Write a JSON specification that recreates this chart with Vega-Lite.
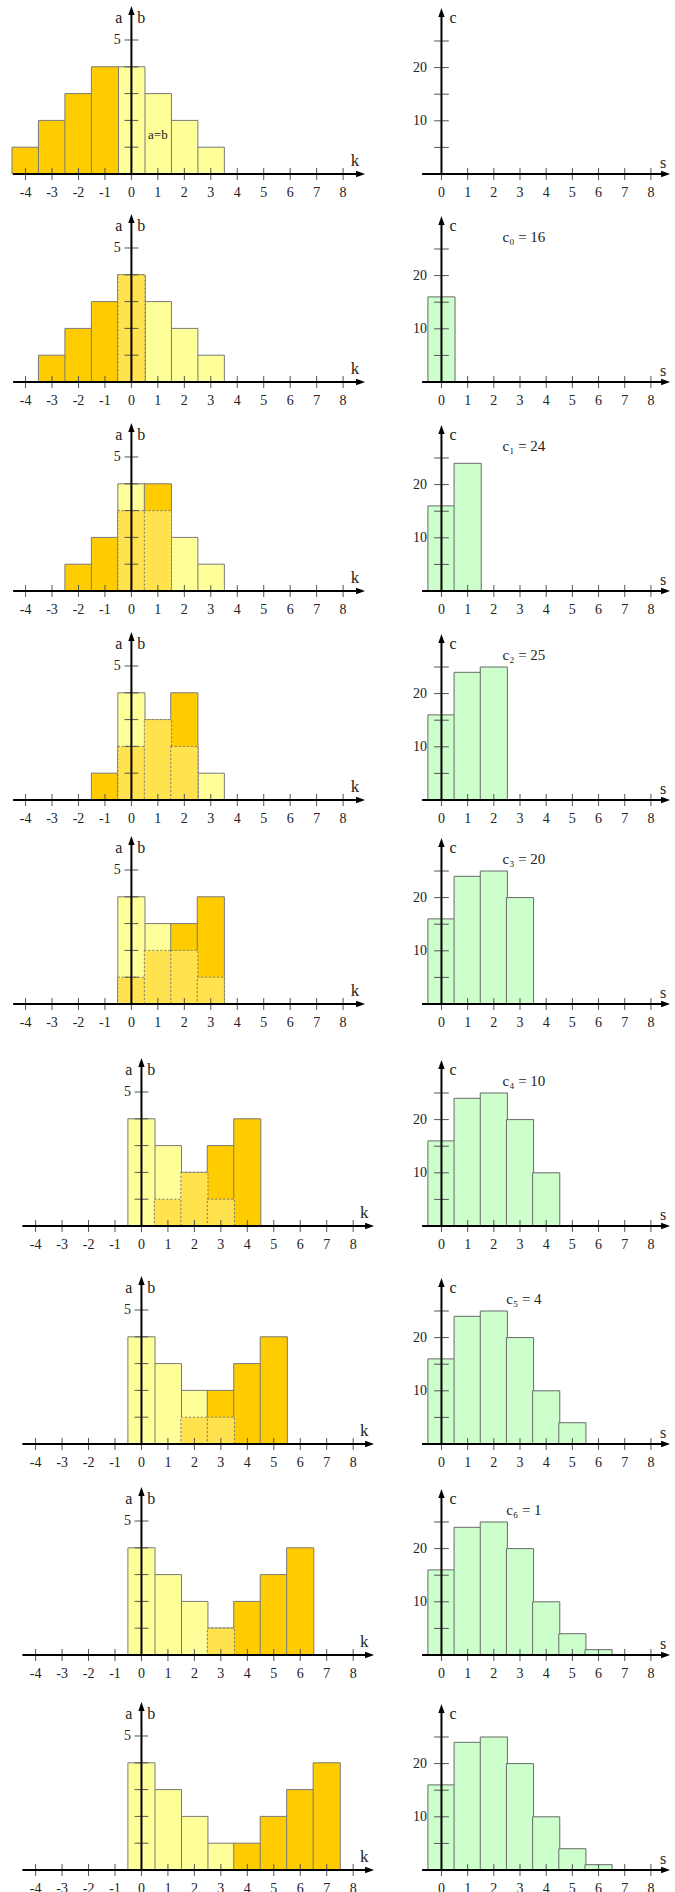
{
"$schema": "https://vega.github.io/schema/vega-lite/v6.json",
"padding": 0,
"background": "white",
"spacing": 0,
"config": {"view": {"stroke": null}, "axis": {"disable": true}, "legend": {"disable": true}},
"datasets": {
"ab": [
{"n":-1,"k":0,"ser":"b","h":4},{"n":-1,"k":1,"ser":"b","h":3},{"n":-1,"k":2,"ser":"b","h":2},{"n":-1,"k":3,"ser":"b","h":1},
{"n":-1,"k":-1,"ser":"a","h":4},{"n":-1,"k":-2,"ser":"a","h":3},{"n":-1,"k":-3,"ser":"a","h":2},{"n":-1,"k":-4,"ser":"a","h":1},
{"n":0,"k":0,"ser":"b","h":4},{"n":0,"k":1,"ser":"b","h":3},{"n":0,"k":2,"ser":"b","h":2},{"n":0,"k":3,"ser":"b","h":1},
{"n":0,"k":0,"ser":"a","h":4},{"n":0,"k":-1,"ser":"a","h":3},{"n":0,"k":-2,"ser":"a","h":2},{"n":0,"k":-3,"ser":"a","h":1},
{"n":1,"k":0,"ser":"b","h":4},{"n":1,"k":1,"ser":"b","h":3},{"n":1,"k":2,"ser":"b","h":2},{"n":1,"k":3,"ser":"b","h":1},
{"n":1,"k":1,"ser":"a","h":4},{"n":1,"k":0,"ser":"a","h":3},{"n":1,"k":-1,"ser":"a","h":2},{"n":1,"k":-2,"ser":"a","h":1},
{"n":2,"k":0,"ser":"b","h":4},{"n":2,"k":1,"ser":"b","h":3},{"n":2,"k":2,"ser":"b","h":2},{"n":2,"k":3,"ser":"b","h":1},
{"n":2,"k":2,"ser":"a","h":4},{"n":2,"k":1,"ser":"a","h":3},{"n":2,"k":0,"ser":"a","h":2},{"n":2,"k":-1,"ser":"a","h":1},
{"n":3,"k":0,"ser":"b","h":4},{"n":3,"k":1,"ser":"b","h":3},{"n":3,"k":2,"ser":"b","h":2},{"n":3,"k":3,"ser":"b","h":1},
{"n":3,"k":3,"ser":"a","h":4},{"n":3,"k":2,"ser":"a","h":3},{"n":3,"k":1,"ser":"a","h":2},{"n":3,"k":0,"ser":"a","h":1},
{"n":4,"k":0,"ser":"b","h":4},{"n":4,"k":1,"ser":"b","h":3},{"n":4,"k":2,"ser":"b","h":2},{"n":4,"k":3,"ser":"b","h":1},
{"n":4,"k":4,"ser":"a","h":4},{"n":4,"k":3,"ser":"a","h":3},{"n":4,"k":2,"ser":"a","h":2},{"n":4,"k":1,"ser":"a","h":1},
{"n":5,"k":0,"ser":"b","h":4},{"n":5,"k":1,"ser":"b","h":3},{"n":5,"k":2,"ser":"b","h":2},{"n":5,"k":3,"ser":"b","h":1},
{"n":5,"k":5,"ser":"a","h":4},{"n":5,"k":4,"ser":"a","h":3},{"n":5,"k":3,"ser":"a","h":2},{"n":5,"k":2,"ser":"a","h":1},
{"n":6,"k":0,"ser":"b","h":4},{"n":6,"k":1,"ser":"b","h":3},{"n":6,"k":2,"ser":"b","h":2},{"n":6,"k":3,"ser":"b","h":1},
{"n":6,"k":6,"ser":"a","h":4},{"n":6,"k":5,"ser":"a","h":3},{"n":6,"k":4,"ser":"a","h":2},{"n":6,"k":3,"ser":"a","h":1},
{"n":7,"k":0,"ser":"b","h":4},{"n":7,"k":1,"ser":"b","h":3},{"n":7,"k":2,"ser":"b","h":2},{"n":7,"k":3,"ser":"b","h":1},
{"n":7,"k":7,"ser":"a","h":4},{"n":7,"k":6,"ser":"a","h":3},{"n":7,"k":5,"ser":"a","h":2},{"n":7,"k":4,"ser":"a","h":1}
],
"ov": [
{"n":0,"k":0,"h":4},
{"n":1,"k":0,"h":3},{"n":1,"k":1,"h":3},
{"n":2,"k":0,"h":2},{"n":2,"k":1,"h":3},{"n":2,"k":2,"h":2},
{"n":3,"k":0,"h":1},{"n":3,"k":1,"h":2},{"n":3,"k":2,"h":2},{"n":3,"k":3,"h":1},
{"n":4,"k":1,"h":1},{"n":4,"k":2,"h":2},{"n":4,"k":3,"h":1},
{"n":5,"k":2,"h":1},{"n":5,"k":3,"h":1},
{"n":6,"k":3,"h":1}
],
"c": [
{"s":0,"c":16,"lab":"c₀ = 16"},{"s":1,"c":24,"lab":"c₁ = 24"},{"s":2,"c":25,"lab":"c₂ = 25"},{"s":3,"c":20,"lab":"c₃ = 20"},
{"s":4,"c":10,"lab":"c₄ = 10"},{"s":5,"c":4,"lab":"c₅ = 4"},{"s":6,"c":1,"lab":"c₆ = 1"}
],
"kt": [{"v":-4,"t":"-4"},{"v":-3,"t":"-3"},{"v":-2,"t":"-2"},{"v":-1,"t":"-1"},{"v":0,"t":"0"},{"v":1,"t":"1"},{"v":2,"t":"2"},{"v":3,"t":"3"},{"v":4,"t":"4"},{"v":5,"t":"5"},{"v":6,"t":"6"},{"v":7,"t":"7"},{"v":8,"t":"8"}],
"yt": [{"v":1},{"v":2},{"v":3},{"v":4},{"v":5}],
"st": [{"v":0,"t":"0"},{"v":1,"t":"1"},{"v":2,"t":"2"},{"v":3,"t":"3"},{"v":4,"t":"4"},{"v":5,"t":"5"},{"v":6,"t":"6"},{"v":7,"t":"7"},{"v":8,"t":"8"}],
"ct": [{"v":5},{"v":10},{"v":15},{"v":20},{"v":25}],
"ctl": [{"v":10,"t":"10"},{"v":20,"t":"20"}]
},
"vconcat": [
{"hconcat": [
{"width":395,"height":202,"data":{"values":[{}]},"layer":[
{"data":{"name":"ab"},"transform":[{"filter":"datum.n == -1"}],"mark":{"type":"bar","width":27.15,"stroke":"#7a7a7a","strokeWidth":1},"encoding":{"x":{"field":"k","type":"quantitative","scale":{"domain":[-4.777,9.772],"nice":false,"zero":false},"axis":null},"y":{"field":"h","type":"quantitative","scale":{"domain":[-1.0448,6.4925],"nice":false,"zero":false},"axis":null,"stack":null},"y2":{"datum":0},"color":{"field":"ser","type":"nominal","scale":{"domain":["a","b"],"range":["#FFCC00","#FFFF99"]},"legend":null},"order":{"field":"h","type":"quantitative"}}},
{"data":{"name":"ov"},"transform":[{"filter":"datum.n == -1"}],"mark":{"type":"bar","width":27.15,"fill":"#FFE24D","stroke":"#7a7a7a","strokeWidth":1,"strokeDash":[2,2]},"encoding":{"x":{"field":"k","type":"quantitative"},"y":{"field":"h","type":"quantitative","stack":null},"y2":{"datum":0}}},
{"data":{"name":"kt"},"mark":{"type":"rule","color":"#555","strokeWidth":1},"encoding":{"x":{"field":"v","type":"quantitative"},"y":{"datum":-0.224},"y2":{"datum":0.224}}},
{"data":{"name":"yt"},"mark":{"type":"rule","color":"#555","strokeWidth":1},"encoding":{"y":{"field":"v","type":"quantitative"},"x":{"datum":-0.26},"x2":{"datum":0.26}}},
{"mark":{"type":"rule","color":"#000","strokeWidth":2},"encoding":{"x":{"datum":-4.47},"x2":{"datum":8.6},"y":{"datum":0}}},
{"mark":{"type":"rule","color":"#000","strokeWidth":2},"encoding":{"x":{"datum":0},"y":{"datum":0},"y2":{"datum":6.12}}},
{"mark":{"type":"point","shape":"M1,0L-1,-0.7L-1,0.7Z","filled":true,"size":81,"color":"#000","opacity":1},"encoding":{"x":{"datum":8.66},"y":{"datum":0}}},
{"mark":{"type":"point","shape":"M0,-1L-0.7,1L0.7,1Z","filled":true,"size":81,"color":"#000","opacity":1},"encoding":{"x":{"datum":0},"y":{"datum":6.1}}},
{"data":{"name":"kt"},"mark":{"type":"text","font":"Liberation Serif","fontSize":14,"color":"#222","align":"center","baseline":"middle"},"encoding":{"x":{"field":"v","type":"quantitative"},"y":{"datum":-0.71},"text":{"field":"t"}}},
{"mark":{"type":"text","text":"5","font":"Liberation Serif","fontSize":14,"color":"#222","align":"right","baseline":"middle"},"encoding":{"x":{"datum":-0.4},"y":{"datum":5}}},
{"mark":{"type":"text","text":"a","font":"Liberation Serif","fontSize":16,"color":"#222","align":"center","baseline":"middle"},"encoding":{"x":{"datum":-0.48},"y":{"datum":5.83}}},
{"mark":{"type":"text","text":"b","font":"Liberation Serif","fontSize":16,"color":"#222","align":"center","baseline":"middle"},"encoding":{"x":{"datum":0.37},"y":{"datum":5.83}}},
{"mark":{"type":"text","text":"k","font":"Liberation Serif","fontSize":17,"color":"#222","align":"center","baseline":"middle"},"encoding":{"x":{"datum":8.45},"y":{"datum":0.47}}},
{"mark":{"type":"text","text":"a=b","font":"Liberation Serif","fontSize":13,"color":"#222","align":"center","baseline":"middle"},"encoding":{"x":{"datum":1.0},"y":{"datum":1.46}}}
]},
{"width":280,"height":202,"data":{"values":[{}]},"layer":[
{"data":{"name":"c"},"transform":[{"filter":"datum.s <= -1"}],"mark":{"type":"bar","width":27.15,"fill":"#CCFFCC","stroke":"#6a6a6a","strokeWidth":1},"encoding":{"x":{"field":"s","type":"quantitative","scale":{"domain":[-1.584,8.729],"nice":false,"zero":false},"axis":null},"y":{"field":"c","type":"quantitative","scale":{"domain":[-5.2632,32.707],"nice":false,"zero":false},"axis":null,"stack":null},"y2":{"datum":0}}},
{"data":{"name":"st"},"mark":{"type":"rule","color":"#555","strokeWidth":1},"encoding":{"x":{"field":"v","type":"quantitative"},"y":{"datum":-1.13},"y2":{"datum":1.13}}},
{"data":{"name":"ct"},"mark":{"type":"rule","color":"#555","strokeWidth":1},"encoding":{"y":{"field":"v","type":"quantitative"},"x":{"datum":-0.28},"x2":{"datum":0.28}}},
{"mark":{"type":"rule","color":"#000","strokeWidth":2},"encoding":{"x":{"datum":-0.74},"x2":{"datum":8.5},"y":{"datum":0}}},
{"mark":{"type":"rule","color":"#000","strokeWidth":2},"encoding":{"x":{"datum":0},"y":{"datum":0},"y2":{"datum":30.4}}},
{"mark":{"type":"point","shape":"M1,0L-1,-0.7L-1,0.7Z","filled":true,"size":81,"color":"#000","opacity":1},"encoding":{"x":{"datum":8.56},"y":{"datum":0}}},
{"mark":{"type":"point","shape":"M0,-1L-0.7,1L0.7,1Z","filled":true,"size":81,"color":"#000","opacity":1},"encoding":{"x":{"datum":0},"y":{"datum":30.35}}},
{"data":{"name":"st"},"mark":{"type":"text","font":"Liberation Serif","fontSize":14,"color":"#222","align":"center","baseline":"middle"},"encoding":{"x":{"field":"v","type":"quantitative"},"y":{"datum":-3.57},"text":{"field":"t"}}},
{"data":{"name":"ctl"},"mark":{"type":"text","font":"Liberation Serif","fontSize":14,"color":"#222","align":"right","baseline":"middle"},"encoding":{"x":{"datum":-0.55},"y":{"field":"v","type":"quantitative"},"text":{"field":"t"}}},
{"mark":{"type":"text","text":"c","font":"Liberation Serif","fontSize":16,"color":"#222","align":"center","baseline":"middle"},"encoding":{"x":{"datum":0.44},"y":{"datum":29.3}}},
{"mark":{"type":"text","text":"s","font":"Liberation Serif","fontSize":16,"color":"#222","align":"center","baseline":"middle"},"encoding":{"x":{"datum":8.47},"y":{"datum":2.1}}},
{"data":{"name":"c"},"transform":[{"filter":"datum.s == -1"}],"mark":{"type":"text","font":"Liberation Serif","fontSize":15,"color":"#222","align":"center","baseline":"middle"},"encoding":{"x":{"datum":3.15},"y":{"datum":27.3},"text":{"field":"lab"}}}
]}
], "spacing": 0, "bounds": "flush"},
{"hconcat": [
{"width":395,"height":208,"data":{"values":[{}]},"layer":[
{"data":{"name":"ab"},"transform":[{"filter":"datum.n == 0"}],"mark":{"type":"bar","width":27.15,"stroke":"#7a7a7a","strokeWidth":1},"encoding":{"x":{"field":"k","type":"quantitative","scale":{"domain":[-4.777,9.772],"nice":false,"zero":false},"axis":null},"y":{"field":"h","type":"quantitative","scale":{"domain":[-1.0448,6.7164],"nice":false,"zero":false},"axis":null,"stack":null},"y2":{"datum":0},"color":{"field":"ser","type":"nominal","scale":{"domain":["a","b"],"range":["#FFCC00","#FFFF99"]},"legend":null},"order":{"field":"h","type":"quantitative"}}},
{"data":{"name":"ov"},"transform":[{"filter":"datum.n == 0"}],"mark":{"type":"bar","width":27.15,"fill":"#FFE24D","stroke":"#7a7a7a","strokeWidth":1,"strokeDash":[2,2]},"encoding":{"x":{"field":"k","type":"quantitative"},"y":{"field":"h","type":"quantitative","stack":null},"y2":{"datum":0}}},
{"data":{"name":"kt"},"mark":{"type":"rule","color":"#555","strokeWidth":1},"encoding":{"x":{"field":"v","type":"quantitative"},"y":{"datum":-0.224},"y2":{"datum":0.224}}},
{"data":{"name":"yt"},"mark":{"type":"rule","color":"#555","strokeWidth":1},"encoding":{"y":{"field":"v","type":"quantitative"},"x":{"datum":-0.26},"x2":{"datum":0.26}}},
{"mark":{"type":"rule","color":"#000","strokeWidth":2},"encoding":{"x":{"datum":-4.47},"x2":{"datum":8.6},"y":{"datum":0}}},
{"mark":{"type":"rule","color":"#000","strokeWidth":2},"encoding":{"x":{"datum":0},"y":{"datum":0},"y2":{"datum":6.12}}},
{"mark":{"type":"point","shape":"M1,0L-1,-0.7L-1,0.7Z","filled":true,"size":81,"color":"#000","opacity":1},"encoding":{"x":{"datum":8.66},"y":{"datum":0}}},
{"mark":{"type":"point","shape":"M0,-1L-0.7,1L0.7,1Z","filled":true,"size":81,"color":"#000","opacity":1},"encoding":{"x":{"datum":0},"y":{"datum":6.1}}},
{"data":{"name":"kt"},"mark":{"type":"text","font":"Liberation Serif","fontSize":14,"color":"#222","align":"center","baseline":"middle"},"encoding":{"x":{"field":"v","type":"quantitative"},"y":{"datum":-0.71},"text":{"field":"t"}}},
{"mark":{"type":"text","text":"5","font":"Liberation Serif","fontSize":14,"color":"#222","align":"right","baseline":"middle"},"encoding":{"x":{"datum":-0.4},"y":{"datum":5}}},
{"mark":{"type":"text","text":"a","font":"Liberation Serif","fontSize":16,"color":"#222","align":"center","baseline":"middle"},"encoding":{"x":{"datum":-0.48},"y":{"datum":5.83}}},
{"mark":{"type":"text","text":"b","font":"Liberation Serif","fontSize":16,"color":"#222","align":"center","baseline":"middle"},"encoding":{"x":{"datum":0.37},"y":{"datum":5.83}}},
{"mark":{"type":"text","text":"k","font":"Liberation Serif","fontSize":17,"color":"#222","align":"center","baseline":"middle"},"encoding":{"x":{"datum":8.45},"y":{"datum":0.47}}}
]},
{"width":280,"height":208,"data":{"values":[{}]},"layer":[
{"data":{"name":"c"},"transform":[{"filter":"datum.s <= 0"}],"mark":{"type":"bar","width":27.15,"fill":"#CCFFCC","stroke":"#6a6a6a","strokeWidth":1},"encoding":{"x":{"field":"s","type":"quantitative","scale":{"domain":[-1.584,8.729],"nice":false,"zero":false},"axis":null},"y":{"field":"c","type":"quantitative","scale":{"domain":[-5.2632,33.835],"nice":false,"zero":false},"axis":null,"stack":null},"y2":{"datum":0}}},
{"data":{"name":"st"},"mark":{"type":"rule","color":"#555","strokeWidth":1},"encoding":{"x":{"field":"v","type":"quantitative"},"y":{"datum":-1.13},"y2":{"datum":1.13}}},
{"data":{"name":"ct"},"mark":{"type":"rule","color":"#555","strokeWidth":1},"encoding":{"y":{"field":"v","type":"quantitative"},"x":{"datum":-0.28},"x2":{"datum":0.28}}},
{"mark":{"type":"rule","color":"#000","strokeWidth":2},"encoding":{"x":{"datum":-0.74},"x2":{"datum":8.5},"y":{"datum":0}}},
{"mark":{"type":"rule","color":"#000","strokeWidth":2},"encoding":{"x":{"datum":0},"y":{"datum":0},"y2":{"datum":30.4}}},
{"mark":{"type":"point","shape":"M1,0L-1,-0.7L-1,0.7Z","filled":true,"size":81,"color":"#000","opacity":1},"encoding":{"x":{"datum":8.56},"y":{"datum":0}}},
{"mark":{"type":"point","shape":"M0,-1L-0.7,1L0.7,1Z","filled":true,"size":81,"color":"#000","opacity":1},"encoding":{"x":{"datum":0},"y":{"datum":30.35}}},
{"data":{"name":"st"},"mark":{"type":"text","font":"Liberation Serif","fontSize":14,"color":"#222","align":"center","baseline":"middle"},"encoding":{"x":{"field":"v","type":"quantitative"},"y":{"datum":-3.57},"text":{"field":"t"}}},
{"data":{"name":"ctl"},"mark":{"type":"text","font":"Liberation Serif","fontSize":14,"color":"#222","align":"right","baseline":"middle"},"encoding":{"x":{"datum":-0.55},"y":{"field":"v","type":"quantitative"},"text":{"field":"t"}}},
{"mark":{"type":"text","text":"c","font":"Liberation Serif","fontSize":16,"color":"#222","align":"center","baseline":"middle"},"encoding":{"x":{"datum":0.44},"y":{"datum":29.3}}},
{"mark":{"type":"text","text":"s","font":"Liberation Serif","fontSize":16,"color":"#222","align":"center","baseline":"middle"},"encoding":{"x":{"datum":8.47},"y":{"datum":2.1}}},
{"data":{"name":"c"},"transform":[{"filter":"datum.s == 0"}],"mark":{"type":"text","font":"Liberation Serif","fontSize":15,"color":"#222","align":"center","baseline":"middle"},"encoding":{"x":{"datum":3.15},"y":{"datum":27.3},"text":{"field":"lab"}}}
]}
], "spacing": 0, "bounds": "flush"},
{"hconcat": [
{"width":395,"height":209,"data":{"values":[{}]},"layer":[
{"data":{"name":"ab"},"transform":[{"filter":"datum.n == 1"}],"mark":{"type":"bar","width":27.15,"stroke":"#7a7a7a","strokeWidth":1},"encoding":{"x":{"field":"k","type":"quantitative","scale":{"domain":[-4.777,9.772],"nice":false,"zero":false},"axis":null},"y":{"field":"h","type":"quantitative","scale":{"domain":[-1.0448,6.7537],"nice":false,"zero":false},"axis":null,"stack":null},"y2":{"datum":0},"color":{"field":"ser","type":"nominal","scale":{"domain":["a","b"],"range":["#FFCC00","#FFFF99"]},"legend":null},"order":{"field":"h","type":"quantitative"}}},
{"data":{"name":"ov"},"transform":[{"filter":"datum.n == 1"}],"mark":{"type":"bar","width":27.15,"fill":"#FFE24D","stroke":"#7a7a7a","strokeWidth":1,"strokeDash":[2,2]},"encoding":{"x":{"field":"k","type":"quantitative"},"y":{"field":"h","type":"quantitative","stack":null},"y2":{"datum":0}}},
{"data":{"name":"kt"},"mark":{"type":"rule","color":"#555","strokeWidth":1},"encoding":{"x":{"field":"v","type":"quantitative"},"y":{"datum":-0.224},"y2":{"datum":0.224}}},
{"data":{"name":"yt"},"mark":{"type":"rule","color":"#555","strokeWidth":1},"encoding":{"y":{"field":"v","type":"quantitative"},"x":{"datum":-0.26},"x2":{"datum":0.26}}},
{"mark":{"type":"rule","color":"#000","strokeWidth":2},"encoding":{"x":{"datum":-4.47},"x2":{"datum":8.6},"y":{"datum":0}}},
{"mark":{"type":"rule","color":"#000","strokeWidth":2},"encoding":{"x":{"datum":0},"y":{"datum":0},"y2":{"datum":6.12}}},
{"mark":{"type":"point","shape":"M1,0L-1,-0.7L-1,0.7Z","filled":true,"size":81,"color":"#000","opacity":1},"encoding":{"x":{"datum":8.66},"y":{"datum":0}}},
{"mark":{"type":"point","shape":"M0,-1L-0.7,1L0.7,1Z","filled":true,"size":81,"color":"#000","opacity":1},"encoding":{"x":{"datum":0},"y":{"datum":6.1}}},
{"data":{"name":"kt"},"mark":{"type":"text","font":"Liberation Serif","fontSize":14,"color":"#222","align":"center","baseline":"middle"},"encoding":{"x":{"field":"v","type":"quantitative"},"y":{"datum":-0.71},"text":{"field":"t"}}},
{"mark":{"type":"text","text":"5","font":"Liberation Serif","fontSize":14,"color":"#222","align":"right","baseline":"middle"},"encoding":{"x":{"datum":-0.4},"y":{"datum":5}}},
{"mark":{"type":"text","text":"a","font":"Liberation Serif","fontSize":16,"color":"#222","align":"center","baseline":"middle"},"encoding":{"x":{"datum":-0.48},"y":{"datum":5.83}}},
{"mark":{"type":"text","text":"b","font":"Liberation Serif","fontSize":16,"color":"#222","align":"center","baseline":"middle"},"encoding":{"x":{"datum":0.37},"y":{"datum":5.83}}},
{"mark":{"type":"text","text":"k","font":"Liberation Serif","fontSize":17,"color":"#222","align":"center","baseline":"middle"},"encoding":{"x":{"datum":8.45},"y":{"datum":0.47}}}
]},
{"width":280,"height":209,"data":{"values":[{}]},"layer":[
{"data":{"name":"c"},"transform":[{"filter":"datum.s <= 1"}],"mark":{"type":"bar","width":27.15,"fill":"#CCFFCC","stroke":"#6a6a6a","strokeWidth":1},"encoding":{"x":{"field":"s","type":"quantitative","scale":{"domain":[-1.584,8.729],"nice":false,"zero":false},"axis":null},"y":{"field":"c","type":"quantitative","scale":{"domain":[-5.2632,34.023],"nice":false,"zero":false},"axis":null,"stack":null},"y2":{"datum":0}}},
{"data":{"name":"st"},"mark":{"type":"rule","color":"#555","strokeWidth":1},"encoding":{"x":{"field":"v","type":"quantitative"},"y":{"datum":-1.13},"y2":{"datum":1.13}}},
{"data":{"name":"ct"},"mark":{"type":"rule","color":"#555","strokeWidth":1},"encoding":{"y":{"field":"v","type":"quantitative"},"x":{"datum":-0.28},"x2":{"datum":0.28}}},
{"mark":{"type":"rule","color":"#000","strokeWidth":2},"encoding":{"x":{"datum":-0.74},"x2":{"datum":8.5},"y":{"datum":0}}},
{"mark":{"type":"rule","color":"#000","strokeWidth":2},"encoding":{"x":{"datum":0},"y":{"datum":0},"y2":{"datum":30.4}}},
{"mark":{"type":"point","shape":"M1,0L-1,-0.7L-1,0.7Z","filled":true,"size":81,"color":"#000","opacity":1},"encoding":{"x":{"datum":8.56},"y":{"datum":0}}},
{"mark":{"type":"point","shape":"M0,-1L-0.7,1L0.7,1Z","filled":true,"size":81,"color":"#000","opacity":1},"encoding":{"x":{"datum":0},"y":{"datum":30.35}}},
{"data":{"name":"st"},"mark":{"type":"text","font":"Liberation Serif","fontSize":14,"color":"#222","align":"center","baseline":"middle"},"encoding":{"x":{"field":"v","type":"quantitative"},"y":{"datum":-3.57},"text":{"field":"t"}}},
{"data":{"name":"ctl"},"mark":{"type":"text","font":"Liberation Serif","fontSize":14,"color":"#222","align":"right","baseline":"middle"},"encoding":{"x":{"datum":-0.55},"y":{"field":"v","type":"quantitative"},"text":{"field":"t"}}},
{"mark":{"type":"text","text":"c","font":"Liberation Serif","fontSize":16,"color":"#222","align":"center","baseline":"middle"},"encoding":{"x":{"datum":0.44},"y":{"datum":29.3}}},
{"mark":{"type":"text","text":"s","font":"Liberation Serif","fontSize":16,"color":"#222","align":"center","baseline":"middle"},"encoding":{"x":{"datum":8.47},"y":{"datum":2.1}}},
{"data":{"name":"c"},"transform":[{"filter":"datum.s == 1"}],"mark":{"type":"text","font":"Liberation Serif","fontSize":15,"color":"#222","align":"center","baseline":"middle"},"encoding":{"x":{"datum":3.15},"y":{"datum":27.3},"text":{"field":"lab"}}}
]}
], "spacing": 0, "bounds": "flush"},
{"hconcat": [
{"width":395,"height":209,"data":{"values":[{}]},"layer":[
{"data":{"name":"ab"},"transform":[{"filter":"datum.n == 2"}],"mark":{"type":"bar","width":27.15,"stroke":"#7a7a7a","strokeWidth":1},"encoding":{"x":{"field":"k","type":"quantitative","scale":{"domain":[-4.777,9.772],"nice":false,"zero":false},"axis":null},"y":{"field":"h","type":"quantitative","scale":{"domain":[-1.0448,6.7537],"nice":false,"zero":false},"axis":null,"stack":null},"y2":{"datum":0},"color":{"field":"ser","type":"nominal","scale":{"domain":["a","b"],"range":["#FFCC00","#FFFF99"]},"legend":null},"order":{"field":"h","type":"quantitative"}}},
{"data":{"name":"ov"},"transform":[{"filter":"datum.n == 2"}],"mark":{"type":"bar","width":27.15,"fill":"#FFE24D","stroke":"#7a7a7a","strokeWidth":1,"strokeDash":[2,2]},"encoding":{"x":{"field":"k","type":"quantitative"},"y":{"field":"h","type":"quantitative","stack":null},"y2":{"datum":0}}},
{"data":{"name":"kt"},"mark":{"type":"rule","color":"#555","strokeWidth":1},"encoding":{"x":{"field":"v","type":"quantitative"},"y":{"datum":-0.224},"y2":{"datum":0.224}}},
{"data":{"name":"yt"},"mark":{"type":"rule","color":"#555","strokeWidth":1},"encoding":{"y":{"field":"v","type":"quantitative"},"x":{"datum":-0.26},"x2":{"datum":0.26}}},
{"mark":{"type":"rule","color":"#000","strokeWidth":2},"encoding":{"x":{"datum":-4.47},"x2":{"datum":8.6},"y":{"datum":0}}},
{"mark":{"type":"rule","color":"#000","strokeWidth":2},"encoding":{"x":{"datum":0},"y":{"datum":0},"y2":{"datum":6.12}}},
{"mark":{"type":"point","shape":"M1,0L-1,-0.7L-1,0.7Z","filled":true,"size":81,"color":"#000","opacity":1},"encoding":{"x":{"datum":8.66},"y":{"datum":0}}},
{"mark":{"type":"point","shape":"M0,-1L-0.7,1L0.7,1Z","filled":true,"size":81,"color":"#000","opacity":1},"encoding":{"x":{"datum":0},"y":{"datum":6.1}}},
{"data":{"name":"kt"},"mark":{"type":"text","font":"Liberation Serif","fontSize":14,"color":"#222","align":"center","baseline":"middle"},"encoding":{"x":{"field":"v","type":"quantitative"},"y":{"datum":-0.71},"text":{"field":"t"}}},
{"mark":{"type":"text","text":"5","font":"Liberation Serif","fontSize":14,"color":"#222","align":"right","baseline":"middle"},"encoding":{"x":{"datum":-0.4},"y":{"datum":5}}},
{"mark":{"type":"text","text":"a","font":"Liberation Serif","fontSize":16,"color":"#222","align":"center","baseline":"middle"},"encoding":{"x":{"datum":-0.48},"y":{"datum":5.83}}},
{"mark":{"type":"text","text":"b","font":"Liberation Serif","fontSize":16,"color":"#222","align":"center","baseline":"middle"},"encoding":{"x":{"datum":0.37},"y":{"datum":5.83}}},
{"mark":{"type":"text","text":"k","font":"Liberation Serif","fontSize":17,"color":"#222","align":"center","baseline":"middle"},"encoding":{"x":{"datum":8.45},"y":{"datum":0.47}}}
]},
{"width":280,"height":209,"data":{"values":[{}]},"layer":[
{"data":{"name":"c"},"transform":[{"filter":"datum.s <= 2"}],"mark":{"type":"bar","width":27.15,"fill":"#CCFFCC","stroke":"#6a6a6a","strokeWidth":1},"encoding":{"x":{"field":"s","type":"quantitative","scale":{"domain":[-1.584,8.729],"nice":false,"zero":false},"axis":null},"y":{"field":"c","type":"quantitative","scale":{"domain":[-5.2632,34.023],"nice":false,"zero":false},"axis":null,"stack":null},"y2":{"datum":0}}},
{"data":{"name":"st"},"mark":{"type":"rule","color":"#555","strokeWidth":1},"encoding":{"x":{"field":"v","type":"quantitative"},"y":{"datum":-1.13},"y2":{"datum":1.13}}},
{"data":{"name":"ct"},"mark":{"type":"rule","color":"#555","strokeWidth":1},"encoding":{"y":{"field":"v","type":"quantitative"},"x":{"datum":-0.28},"x2":{"datum":0.28}}},
{"mark":{"type":"rule","color":"#000","strokeWidth":2},"encoding":{"x":{"datum":-0.74},"x2":{"datum":8.5},"y":{"datum":0}}},
{"mark":{"type":"rule","color":"#000","strokeWidth":2},"encoding":{"x":{"datum":0},"y":{"datum":0},"y2":{"datum":30.4}}},
{"mark":{"type":"point","shape":"M1,0L-1,-0.7L-1,0.7Z","filled":true,"size":81,"color":"#000","opacity":1},"encoding":{"x":{"datum":8.56},"y":{"datum":0}}},
{"mark":{"type":"point","shape":"M0,-1L-0.7,1L0.7,1Z","filled":true,"size":81,"color":"#000","opacity":1},"encoding":{"x":{"datum":0},"y":{"datum":30.35}}},
{"data":{"name":"st"},"mark":{"type":"text","font":"Liberation Serif","fontSize":14,"color":"#222","align":"center","baseline":"middle"},"encoding":{"x":{"field":"v","type":"quantitative"},"y":{"datum":-3.57},"text":{"field":"t"}}},
{"data":{"name":"ctl"},"mark":{"type":"text","font":"Liberation Serif","fontSize":14,"color":"#222","align":"right","baseline":"middle"},"encoding":{"x":{"datum":-0.55},"y":{"field":"v","type":"quantitative"},"text":{"field":"t"}}},
{"mark":{"type":"text","text":"c","font":"Liberation Serif","fontSize":16,"color":"#222","align":"center","baseline":"middle"},"encoding":{"x":{"datum":0.44},"y":{"datum":29.3}}},
{"mark":{"type":"text","text":"s","font":"Liberation Serif","fontSize":16,"color":"#222","align":"center","baseline":"middle"},"encoding":{"x":{"datum":8.47},"y":{"datum":2.1}}},
{"data":{"name":"c"},"transform":[{"filter":"datum.s == 2"}],"mark":{"type":"text","font":"Liberation Serif","fontSize":15,"color":"#222","align":"center","baseline":"middle"},"encoding":{"x":{"datum":3.15},"y":{"datum":27.3},"text":{"field":"lab"}}}
]}
], "spacing": 0, "bounds": "flush"},
{"hconcat": [
{"width":395,"height":204,"data":{"values":[{}]},"layer":[
{"data":{"name":"ab"},"transform":[{"filter":"datum.n == 3"}],"mark":{"type":"bar","width":27.15,"stroke":"#7a7a7a","strokeWidth":1},"encoding":{"x":{"field":"k","type":"quantitative","scale":{"domain":[-4.777,9.772],"nice":false,"zero":false},"axis":null},"y":{"field":"h","type":"quantitative","scale":{"domain":[-1.0448,6.5672],"nice":false,"zero":false},"axis":null,"stack":null},"y2":{"datum":0},"color":{"field":"ser","type":"nominal","scale":{"domain":["a","b"],"range":["#FFCC00","#FFFF99"]},"legend":null},"order":{"field":"h","type":"quantitative"}}},
{"data":{"name":"ov"},"transform":[{"filter":"datum.n == 3"}],"mark":{"type":"bar","width":27.15,"fill":"#FFE24D","stroke":"#7a7a7a","strokeWidth":1,"strokeDash":[2,2]},"encoding":{"x":{"field":"k","type":"quantitative"},"y":{"field":"h","type":"quantitative","stack":null},"y2":{"datum":0}}},
{"data":{"name":"kt"},"mark":{"type":"rule","color":"#555","strokeWidth":1},"encoding":{"x":{"field":"v","type":"quantitative"},"y":{"datum":-0.224},"y2":{"datum":0.224}}},
{"data":{"name":"yt"},"mark":{"type":"rule","color":"#555","strokeWidth":1},"encoding":{"y":{"field":"v","type":"quantitative"},"x":{"datum":-0.26},"x2":{"datum":0.26}}},
{"mark":{"type":"rule","color":"#000","strokeWidth":2},"encoding":{"x":{"datum":-4.47},"x2":{"datum":8.6},"y":{"datum":0}}},
{"mark":{"type":"rule","color":"#000","strokeWidth":2},"encoding":{"x":{"datum":0},"y":{"datum":0},"y2":{"datum":6.12}}},
{"mark":{"type":"point","shape":"M1,0L-1,-0.7L-1,0.7Z","filled":true,"size":81,"color":"#000","opacity":1},"encoding":{"x":{"datum":8.66},"y":{"datum":0}}},
{"mark":{"type":"point","shape":"M0,-1L-0.7,1L0.7,1Z","filled":true,"size":81,"color":"#000","opacity":1},"encoding":{"x":{"datum":0},"y":{"datum":6.1}}},
{"data":{"name":"kt"},"mark":{"type":"text","font":"Liberation Serif","fontSize":14,"color":"#222","align":"center","baseline":"middle"},"encoding":{"x":{"field":"v","type":"quantitative"},"y":{"datum":-0.71},"text":{"field":"t"}}},
{"mark":{"type":"text","text":"5","font":"Liberation Serif","fontSize":14,"color":"#222","align":"right","baseline":"middle"},"encoding":{"x":{"datum":-0.4},"y":{"datum":5}}},
{"mark":{"type":"text","text":"a","font":"Liberation Serif","fontSize":16,"color":"#222","align":"center","baseline":"middle"},"encoding":{"x":{"datum":-0.48},"y":{"datum":5.83}}},
{"mark":{"type":"text","text":"b","font":"Liberation Serif","fontSize":16,"color":"#222","align":"center","baseline":"middle"},"encoding":{"x":{"datum":0.37},"y":{"datum":5.83}}},
{"mark":{"type":"text","text":"k","font":"Liberation Serif","fontSize":17,"color":"#222","align":"center","baseline":"middle"},"encoding":{"x":{"datum":8.45},"y":{"datum":0.47}}}
]},
{"width":280,"height":204,"data":{"values":[{}]},"layer":[
{"data":{"name":"c"},"transform":[{"filter":"datum.s <= 3"}],"mark":{"type":"bar","width":27.15,"fill":"#CCFFCC","stroke":"#6a6a6a","strokeWidth":1},"encoding":{"x":{"field":"s","type":"quantitative","scale":{"domain":[-1.584,8.729],"nice":false,"zero":false},"axis":null},"y":{"field":"c","type":"quantitative","scale":{"domain":[-5.2632,33.083],"nice":false,"zero":false},"axis":null,"stack":null},"y2":{"datum":0}}},
{"data":{"name":"st"},"mark":{"type":"rule","color":"#555","strokeWidth":1},"encoding":{"x":{"field":"v","type":"quantitative"},"y":{"datum":-1.13},"y2":{"datum":1.13}}},
{"data":{"name":"ct"},"mark":{"type":"rule","color":"#555","strokeWidth":1},"encoding":{"y":{"field":"v","type":"quantitative"},"x":{"datum":-0.28},"x2":{"datum":0.28}}},
{"mark":{"type":"rule","color":"#000","strokeWidth":2},"encoding":{"x":{"datum":-0.74},"x2":{"datum":8.5},"y":{"datum":0}}},
{"mark":{"type":"rule","color":"#000","strokeWidth":2},"encoding":{"x":{"datum":0},"y":{"datum":0},"y2":{"datum":30.4}}},
{"mark":{"type":"point","shape":"M1,0L-1,-0.7L-1,0.7Z","filled":true,"size":81,"color":"#000","opacity":1},"encoding":{"x":{"datum":8.56},"y":{"datum":0}}},
{"mark":{"type":"point","shape":"M0,-1L-0.7,1L0.7,1Z","filled":true,"size":81,"color":"#000","opacity":1},"encoding":{"x":{"datum":0},"y":{"datum":30.35}}},
{"data":{"name":"st"},"mark":{"type":"text","font":"Liberation Serif","fontSize":14,"color":"#222","align":"center","baseline":"middle"},"encoding":{"x":{"field":"v","type":"quantitative"},"y":{"datum":-3.57},"text":{"field":"t"}}},
{"data":{"name":"ctl"},"mark":{"type":"text","font":"Liberation Serif","fontSize":14,"color":"#222","align":"right","baseline":"middle"},"encoding":{"x":{"datum":-0.55},"y":{"field":"v","type":"quantitative"},"text":{"field":"t"}}},
{"mark":{"type":"text","text":"c","font":"Liberation Serif","fontSize":16,"color":"#222","align":"center","baseline":"middle"},"encoding":{"x":{"datum":0.44},"y":{"datum":29.3}}},
{"mark":{"type":"text","text":"s","font":"Liberation Serif","fontSize":16,"color":"#222","align":"center","baseline":"middle"},"encoding":{"x":{"datum":8.47},"y":{"datum":2.1}}},
{"data":{"name":"c"},"transform":[{"filter":"datum.s == 3"}],"mark":{"type":"text","font":"Liberation Serif","fontSize":15,"color":"#222","align":"center","baseline":"middle"},"encoding":{"x":{"datum":3.15},"y":{"datum":27.3},"text":{"field":"lab"}}}
]}
], "spacing": 0, "bounds": "flush"},
{"hconcat": [
{"width":395,"height":222,"data":{"values":[{}]},"layer":[
{"data":{"name":"ab"},"transform":[{"filter":"datum.n == 4"}],"mark":{"type":"bar","width":27.15,"stroke":"#7a7a7a","strokeWidth":1},"encoding":{"x":{"field":"k","type":"quantitative","scale":{"domain":[-5.157,9.392],"nice":false,"zero":false},"axis":null},"y":{"field":"h","type":"quantitative","scale":{"domain":[-1.0448,7.2388],"nice":false,"zero":false},"axis":null,"stack":null},"y2":{"datum":0},"color":{"field":"ser","type":"nominal","scale":{"domain":["a","b"],"range":["#FFCC00","#FFFF99"]},"legend":null},"order":{"field":"h","type":"quantitative"}}},
{"data":{"name":"ov"},"transform":[{"filter":"datum.n == 4"}],"mark":{"type":"bar","width":27.15,"fill":"#FFE24D","stroke":"#7a7a7a","strokeWidth":1,"strokeDash":[2,2]},"encoding":{"x":{"field":"k","type":"quantitative"},"y":{"field":"h","type":"quantitative","stack":null},"y2":{"datum":0}}},
{"data":{"name":"kt"},"mark":{"type":"rule","color":"#555","strokeWidth":1},"encoding":{"x":{"field":"v","type":"quantitative"},"y":{"datum":-0.224},"y2":{"datum":0.224}}},
{"data":{"name":"yt"},"mark":{"type":"rule","color":"#555","strokeWidth":1},"encoding":{"y":{"field":"v","type":"quantitative"},"x":{"datum":-0.26},"x2":{"datum":0.26}}},
{"mark":{"type":"rule","color":"#000","strokeWidth":2},"encoding":{"x":{"datum":-4.5},"x2":{"datum":8.6},"y":{"datum":0}}},
{"mark":{"type":"rule","color":"#000","strokeWidth":2},"encoding":{"x":{"datum":0},"y":{"datum":0},"y2":{"datum":6.12}}},
{"mark":{"type":"point","shape":"M1,0L-1,-0.7L-1,0.7Z","filled":true,"size":81,"color":"#000","opacity":1},"encoding":{"x":{"datum":8.62},"y":{"datum":0}}},
{"mark":{"type":"point","shape":"M0,-1L-0.7,1L0.7,1Z","filled":true,"size":81,"color":"#000","opacity":1},"encoding":{"x":{"datum":0},"y":{"datum":6.1}}},
{"data":{"name":"kt"},"mark":{"type":"text","font":"Liberation Serif","fontSize":14,"color":"#222","align":"center","baseline":"middle"},"encoding":{"x":{"field":"v","type":"quantitative"},"y":{"datum":-0.71},"text":{"field":"t"}}},
{"mark":{"type":"text","text":"5","font":"Liberation Serif","fontSize":14,"color":"#222","align":"right","baseline":"middle"},"encoding":{"x":{"datum":-0.4},"y":{"datum":5}}},
{"mark":{"type":"text","text":"a","font":"Liberation Serif","fontSize":16,"color":"#222","align":"center","baseline":"middle"},"encoding":{"x":{"datum":-0.48},"y":{"datum":5.83}}},
{"mark":{"type":"text","text":"b","font":"Liberation Serif","fontSize":16,"color":"#222","align":"center","baseline":"middle"},"encoding":{"x":{"datum":0.37},"y":{"datum":5.83}}},
{"mark":{"type":"text","text":"k","font":"Liberation Serif","fontSize":17,"color":"#222","align":"center","baseline":"middle"},"encoding":{"x":{"datum":8.42},"y":{"datum":0.47}}}
]},
{"width":280,"height":222,"data":{"values":[{}]},"layer":[
{"data":{"name":"c"},"transform":[{"filter":"datum.s <= 4"}],"mark":{"type":"bar","width":27.15,"fill":"#CCFFCC","stroke":"#6a6a6a","strokeWidth":1},"encoding":{"x":{"field":"s","type":"quantitative","scale":{"domain":[-1.584,8.729],"nice":false,"zero":false},"axis":null},"y":{"field":"c","type":"quantitative","scale":{"domain":[-5.2632,36.466],"nice":false,"zero":false},"axis":null,"stack":null},"y2":{"datum":0}}},
{"data":{"name":"st"},"mark":{"type":"rule","color":"#555","strokeWidth":1},"encoding":{"x":{"field":"v","type":"quantitative"},"y":{"datum":-1.13},"y2":{"datum":1.13}}},
{"data":{"name":"ct"},"mark":{"type":"rule","color":"#555","strokeWidth":1},"encoding":{"y":{"field":"v","type":"quantitative"},"x":{"datum":-0.28},"x2":{"datum":0.28}}},
{"mark":{"type":"rule","color":"#000","strokeWidth":2},"encoding":{"x":{"datum":-0.74},"x2":{"datum":8.5},"y":{"datum":0}}},
{"mark":{"type":"rule","color":"#000","strokeWidth":2},"encoding":{"x":{"datum":0},"y":{"datum":0},"y2":{"datum":30.4}}},
{"mark":{"type":"point","shape":"M1,0L-1,-0.7L-1,0.7Z","filled":true,"size":81,"color":"#000","opacity":1},"encoding":{"x":{"datum":8.56},"y":{"datum":0}}},
{"mark":{"type":"point","shape":"M0,-1L-0.7,1L0.7,1Z","filled":true,"size":81,"color":"#000","opacity":1},"encoding":{"x":{"datum":0},"y":{"datum":30.35}}},
{"data":{"name":"st"},"mark":{"type":"text","font":"Liberation Serif","fontSize":14,"color":"#222","align":"center","baseline":"middle"},"encoding":{"x":{"field":"v","type":"quantitative"},"y":{"datum":-3.57},"text":{"field":"t"}}},
{"data":{"name":"ctl"},"mark":{"type":"text","font":"Liberation Serif","fontSize":14,"color":"#222","align":"right","baseline":"middle"},"encoding":{"x":{"datum":-0.55},"y":{"field":"v","type":"quantitative"},"text":{"field":"t"}}},
{"mark":{"type":"text","text":"c","font":"Liberation Serif","fontSize":16,"color":"#222","align":"center","baseline":"middle"},"encoding":{"x":{"datum":0.44},"y":{"datum":29.3}}},
{"mark":{"type":"text","text":"s","font":"Liberation Serif","fontSize":16,"color":"#222","align":"center","baseline":"middle"},"encoding":{"x":{"datum":8.47},"y":{"datum":2.1}}},
{"data":{"name":"c"},"transform":[{"filter":"datum.s == 4"}],"mark":{"type":"text","font":"Liberation Serif","fontSize":15,"color":"#222","align":"center","baseline":"middle"},"encoding":{"x":{"datum":3.15},"y":{"datum":27.3},"text":{"field":"lab"}}}
]}
], "spacing": 0, "bounds": "flush"},
{"hconcat": [
{"width":395,"height":218,"data":{"values":[{}]},"layer":[
{"data":{"name":"ab"},"transform":[{"filter":"datum.n == 5"}],"mark":{"type":"bar","width":27.15,"stroke":"#7a7a7a","strokeWidth":1},"encoding":{"x":{"field":"k","type":"quantitative","scale":{"domain":[-5.157,9.392],"nice":false,"zero":false},"axis":null},"y":{"field":"h","type":"quantitative","scale":{"domain":[-1.0448,7.0896],"nice":false,"zero":false},"axis":null,"stack":null},"y2":{"datum":0},"color":{"field":"ser","type":"nominal","scale":{"domain":["a","b"],"range":["#FFCC00","#FFFF99"]},"legend":null},"order":{"field":"h","type":"quantitative"}}},
{"data":{"name":"ov"},"transform":[{"filter":"datum.n == 5"}],"mark":{"type":"bar","width":27.15,"fill":"#FFE24D","stroke":"#7a7a7a","strokeWidth":1,"strokeDash":[2,2]},"encoding":{"x":{"field":"k","type":"quantitative"},"y":{"field":"h","type":"quantitative","stack":null},"y2":{"datum":0}}},
{"data":{"name":"kt"},"mark":{"type":"rule","color":"#555","strokeWidth":1},"encoding":{"x":{"field":"v","type":"quantitative"},"y":{"datum":-0.224},"y2":{"datum":0.224}}},
{"data":{"name":"yt"},"mark":{"type":"rule","color":"#555","strokeWidth":1},"encoding":{"y":{"field":"v","type":"quantitative"},"x":{"datum":-0.26},"x2":{"datum":0.26}}},
{"mark":{"type":"rule","color":"#000","strokeWidth":2},"encoding":{"x":{"datum":-4.5},"x2":{"datum":8.6},"y":{"datum":0}}},
{"mark":{"type":"rule","color":"#000","strokeWidth":2},"encoding":{"x":{"datum":0},"y":{"datum":0},"y2":{"datum":6.12}}},
{"mark":{"type":"point","shape":"M1,0L-1,-0.7L-1,0.7Z","filled":true,"size":81,"color":"#000","opacity":1},"encoding":{"x":{"datum":8.62},"y":{"datum":0}}},
{"mark":{"type":"point","shape":"M0,-1L-0.7,1L0.7,1Z","filled":true,"size":81,"color":"#000","opacity":1},"encoding":{"x":{"datum":0},"y":{"datum":6.1}}},
{"data":{"name":"kt"},"mark":{"type":"text","font":"Liberation Serif","fontSize":14,"color":"#222","align":"center","baseline":"middle"},"encoding":{"x":{"field":"v","type":"quantitative"},"y":{"datum":-0.71},"text":{"field":"t"}}},
{"mark":{"type":"text","text":"5","font":"Liberation Serif","fontSize":14,"color":"#222","align":"right","baseline":"middle"},"encoding":{"x":{"datum":-0.4},"y":{"datum":5}}},
{"mark":{"type":"text","text":"a","font":"Liberation Serif","fontSize":16,"color":"#222","align":"center","baseline":"middle"},"encoding":{"x":{"datum":-0.48},"y":{"datum":5.83}}},
{"mark":{"type":"text","text":"b","font":"Liberation Serif","fontSize":16,"color":"#222","align":"center","baseline":"middle"},"encoding":{"x":{"datum":0.37},"y":{"datum":5.83}}},
{"mark":{"type":"text","text":"k","font":"Liberation Serif","fontSize":17,"color":"#222","align":"center","baseline":"middle"},"encoding":{"x":{"datum":8.42},"y":{"datum":0.47}}}
]},
{"width":280,"height":218,"data":{"values":[{}]},"layer":[
{"data":{"name":"c"},"transform":[{"filter":"datum.s <= 5"}],"mark":{"type":"bar","width":27.15,"fill":"#CCFFCC","stroke":"#6a6a6a","strokeWidth":1},"encoding":{"x":{"field":"s","type":"quantitative","scale":{"domain":[-1.584,8.729],"nice":false,"zero":false},"axis":null},"y":{"field":"c","type":"quantitative","scale":{"domain":[-5.2632,35.714],"nice":false,"zero":false},"axis":null,"stack":null},"y2":{"datum":0}}},
{"data":{"name":"st"},"mark":{"type":"rule","color":"#555","strokeWidth":1},"encoding":{"x":{"field":"v","type":"quantitative"},"y":{"datum":-1.13},"y2":{"datum":1.13}}},
{"data":{"name":"ct"},"mark":{"type":"rule","color":"#555","strokeWidth":1},"encoding":{"y":{"field":"v","type":"quantitative"},"x":{"datum":-0.28},"x2":{"datum":0.28}}},
{"mark":{"type":"rule","color":"#000","strokeWidth":2},"encoding":{"x":{"datum":-0.74},"x2":{"datum":8.5},"y":{"datum":0}}},
{"mark":{"type":"rule","color":"#000","strokeWidth":2},"encoding":{"x":{"datum":0},"y":{"datum":0},"y2":{"datum":30.4}}},
{"mark":{"type":"point","shape":"M1,0L-1,-0.7L-1,0.7Z","filled":true,"size":81,"color":"#000","opacity":1},"encoding":{"x":{"datum":8.56},"y":{"datum":0}}},
{"mark":{"type":"point","shape":"M0,-1L-0.7,1L0.7,1Z","filled":true,"size":81,"color":"#000","opacity":1},"encoding":{"x":{"datum":0},"y":{"datum":30.35}}},
{"data":{"name":"st"},"mark":{"type":"text","font":"Liberation Serif","fontSize":14,"color":"#222","align":"center","baseline":"middle"},"encoding":{"x":{"field":"v","type":"quantitative"},"y":{"datum":-3.57},"text":{"field":"t"}}},
{"data":{"name":"ctl"},"mark":{"type":"text","font":"Liberation Serif","fontSize":14,"color":"#222","align":"right","baseline":"middle"},"encoding":{"x":{"datum":-0.55},"y":{"field":"v","type":"quantitative"},"text":{"field":"t"}}},
{"mark":{"type":"text","text":"c","font":"Liberation Serif","fontSize":16,"color":"#222","align":"center","baseline":"middle"},"encoding":{"x":{"datum":0.44},"y":{"datum":29.3}}},
{"mark":{"type":"text","text":"s","font":"Liberation Serif","fontSize":16,"color":"#222","align":"center","baseline":"middle"},"encoding":{"x":{"datum":8.47},"y":{"datum":2.1}}},
{"data":{"name":"c"},"transform":[{"filter":"datum.s == 5"}],"mark":{"type":"text","font":"Liberation Serif","fontSize":15,"color":"#222","align":"center","baseline":"middle"},"encoding":{"x":{"datum":3.15},"y":{"datum":27.3},"text":{"field":"lab"}}}
]}
], "spacing": 0, "bounds": "flush"},
{"hconcat": [
{"width":395,"height":211,"data":{"values":[{}]},"layer":[
{"data":{"name":"ab"},"transform":[{"filter":"datum.n == 6"}],"mark":{"type":"bar","width":27.15,"stroke":"#7a7a7a","strokeWidth":1},"encoding":{"x":{"field":"k","type":"quantitative","scale":{"domain":[-5.157,9.392],"nice":false,"zero":false},"axis":null},"y":{"field":"h","type":"quantitative","scale":{"domain":[-1.0448,6.8284],"nice":false,"zero":false},"axis":null,"stack":null},"y2":{"datum":0},"color":{"field":"ser","type":"nominal","scale":{"domain":["a","b"],"range":["#FFCC00","#FFFF99"]},"legend":null},"order":{"field":"h","type":"quantitative"}}},
{"data":{"name":"ov"},"transform":[{"filter":"datum.n == 6"}],"mark":{"type":"bar","width":27.15,"fill":"#FFE24D","stroke":"#7a7a7a","strokeWidth":1,"strokeDash":[2,2]},"encoding":{"x":{"field":"k","type":"quantitative"},"y":{"field":"h","type":"quantitative","stack":null},"y2":{"datum":0}}},
{"data":{"name":"kt"},"mark":{"type":"rule","color":"#555","strokeWidth":1},"encoding":{"x":{"field":"v","type":"quantitative"},"y":{"datum":-0.224},"y2":{"datum":0.224}}},
{"data":{"name":"yt"},"mark":{"type":"rule","color":"#555","strokeWidth":1},"encoding":{"y":{"field":"v","type":"quantitative"},"x":{"datum":-0.26},"x2":{"datum":0.26}}},
{"mark":{"type":"rule","color":"#000","strokeWidth":2},"encoding":{"x":{"datum":-4.5},"x2":{"datum":8.6},"y":{"datum":0}}},
{"mark":{"type":"rule","color":"#000","strokeWidth":2},"encoding":{"x":{"datum":0},"y":{"datum":0},"y2":{"datum":6.12}}},
{"mark":{"type":"point","shape":"M1,0L-1,-0.7L-1,0.7Z","filled":true,"size":81,"color":"#000","opacity":1},"encoding":{"x":{"datum":8.62},"y":{"datum":0}}},
{"mark":{"type":"point","shape":"M0,-1L-0.7,1L0.7,1Z","filled":true,"size":81,"color":"#000","opacity":1},"encoding":{"x":{"datum":0},"y":{"datum":6.1}}},
{"data":{"name":"kt"},"mark":{"type":"text","font":"Liberation Serif","fontSize":14,"color":"#222","align":"center","baseline":"middle"},"encoding":{"x":{"field":"v","type":"quantitative"},"y":{"datum":-0.71},"text":{"field":"t"}}},
{"mark":{"type":"text","text":"5","font":"Liberation Serif","fontSize":14,"color":"#222","align":"right","baseline":"middle"},"encoding":{"x":{"datum":-0.4},"y":{"datum":5}}},
{"mark":{"type":"text","text":"a","font":"Liberation Serif","fontSize":16,"color":"#222","align":"center","baseline":"middle"},"encoding":{"x":{"datum":-0.48},"y":{"datum":5.83}}},
{"mark":{"type":"text","text":"b","font":"Liberation Serif","fontSize":16,"color":"#222","align":"center","baseline":"middle"},"encoding":{"x":{"datum":0.37},"y":{"datum":5.83}}},
{"mark":{"type":"text","text":"k","font":"Liberation Serif","fontSize":17,"color":"#222","align":"center","baseline":"middle"},"encoding":{"x":{"datum":8.42},"y":{"datum":0.47}}}
]},
{"width":280,"height":211,"data":{"values":[{}]},"layer":[
{"data":{"name":"c"},"transform":[{"filter":"datum.s <= 6"}],"mark":{"type":"bar","width":27.15,"fill":"#CCFFCC","stroke":"#6a6a6a","strokeWidth":1},"encoding":{"x":{"field":"s","type":"quantitative","scale":{"domain":[-1.584,8.729],"nice":false,"zero":false},"axis":null},"y":{"field":"c","type":"quantitative","scale":{"domain":[-5.2632,34.398],"nice":false,"zero":false},"axis":null,"stack":null},"y2":{"datum":0}}},
{"data":{"name":"st"},"mark":{"type":"rule","color":"#555","strokeWidth":1},"encoding":{"x":{"field":"v","type":"quantitative"},"y":{"datum":-1.13},"y2":{"datum":1.13}}},
{"data":{"name":"ct"},"mark":{"type":"rule","color":"#555","strokeWidth":1},"encoding":{"y":{"field":"v","type":"quantitative"},"x":{"datum":-0.28},"x2":{"datum":0.28}}},
{"mark":{"type":"rule","color":"#000","strokeWidth":2},"encoding":{"x":{"datum":-0.74},"x2":{"datum":8.5},"y":{"datum":0}}},
{"mark":{"type":"rule","color":"#000","strokeWidth":2},"encoding":{"x":{"datum":0},"y":{"datum":0},"y2":{"datum":30.4}}},
{"mark":{"type":"point","shape":"M1,0L-1,-0.7L-1,0.7Z","filled":true,"size":81,"color":"#000","opacity":1},"encoding":{"x":{"datum":8.56},"y":{"datum":0}}},
{"mark":{"type":"point","shape":"M0,-1L-0.7,1L0.7,1Z","filled":true,"size":81,"color":"#000","opacity":1},"encoding":{"x":{"datum":0},"y":{"datum":30.35}}},
{"data":{"name":"st"},"mark":{"type":"text","font":"Liberation Serif","fontSize":14,"color":"#222","align":"center","baseline":"middle"},"encoding":{"x":{"field":"v","type":"quantitative"},"y":{"datum":-3.57},"text":{"field":"t"}}},
{"data":{"name":"ctl"},"mark":{"type":"text","font":"Liberation Serif","fontSize":14,"color":"#222","align":"right","baseline":"middle"},"encoding":{"x":{"datum":-0.55},"y":{"field":"v","type":"quantitative"},"text":{"field":"t"}}},
{"mark":{"type":"text","text":"c","font":"Liberation Serif","fontSize":16,"color":"#222","align":"center","baseline":"middle"},"encoding":{"x":{"datum":0.44},"y":{"datum":29.3}}},
{"mark":{"type":"text","text":"s","font":"Liberation Serif","fontSize":16,"color":"#222","align":"center","baseline":"middle"},"encoding":{"x":{"datum":8.47},"y":{"datum":2.1}}},
{"data":{"name":"c"},"transform":[{"filter":"datum.s == 6"}],"mark":{"type":"text","font":"Liberation Serif","fontSize":15,"color":"#222","align":"center","baseline":"middle"},"encoding":{"x":{"datum":3.15},"y":{"datum":27.3},"text":{"field":"lab"}}}
]}
], "spacing": 0, "bounds": "flush"},
{"hconcat": [
{"width":395,"height":215,"data":{"values":[{}]},"layer":[
{"data":{"name":"ab"},"transform":[{"filter":"datum.n == 7"}],"mark":{"type":"bar","width":27.15,"stroke":"#7a7a7a","strokeWidth":1},"encoding":{"x":{"field":"k","type":"quantitative","scale":{"domain":[-5.157,9.392],"nice":false,"zero":false},"axis":null},"y":{"field":"h","type":"quantitative","scale":{"domain":[-1.0448,6.9776],"nice":false,"zero":false},"axis":null,"stack":null},"y2":{"datum":0},"color":{"field":"ser","type":"nominal","scale":{"domain":["a","b"],"range":["#FFCC00","#FFFF99"]},"legend":null},"order":{"field":"h","type":"quantitative"}}},
{"data":{"name":"ov"},"transform":[{"filter":"datum.n == 7"}],"mark":{"type":"bar","width":27.15,"fill":"#FFE24D","stroke":"#7a7a7a","strokeWidth":1,"strokeDash":[2,2]},"encoding":{"x":{"field":"k","type":"quantitative"},"y":{"field":"h","type":"quantitative","stack":null},"y2":{"datum":0}}},
{"data":{"name":"kt"},"mark":{"type":"rule","color":"#555","strokeWidth":1},"encoding":{"x":{"field":"v","type":"quantitative"},"y":{"datum":-0.224},"y2":{"datum":0.224}}},
{"data":{"name":"yt"},"mark":{"type":"rule","color":"#555","strokeWidth":1},"encoding":{"y":{"field":"v","type":"quantitative"},"x":{"datum":-0.26},"x2":{"datum":0.26}}},
{"mark":{"type":"rule","color":"#000","strokeWidth":2},"encoding":{"x":{"datum":-4.5},"x2":{"datum":8.6},"y":{"datum":0}}},
{"mark":{"type":"rule","color":"#000","strokeWidth":2},"encoding":{"x":{"datum":0},"y":{"datum":0},"y2":{"datum":6.12}}},
{"mark":{"type":"point","shape":"M1,0L-1,-0.7L-1,0.7Z","filled":true,"size":81,"color":"#000","opacity":1},"encoding":{"x":{"datum":8.62},"y":{"datum":0}}},
{"mark":{"type":"point","shape":"M0,-1L-0.7,1L0.7,1Z","filled":true,"size":81,"color":"#000","opacity":1},"encoding":{"x":{"datum":0},"y":{"datum":6.1}}},
{"data":{"name":"kt"},"mark":{"type":"text","font":"Liberation Serif","fontSize":14,"color":"#222","align":"center","baseline":"middle"},"encoding":{"x":{"field":"v","type":"quantitative"},"y":{"datum":-0.71},"text":{"field":"t"}}},
{"mark":{"type":"text","text":"5","font":"Liberation Serif","fontSize":14,"color":"#222","align":"right","baseline":"middle"},"encoding":{"x":{"datum":-0.4},"y":{"datum":5}}},
{"mark":{"type":"text","text":"a","font":"Liberation Serif","fontSize":16,"color":"#222","align":"center","baseline":"middle"},"encoding":{"x":{"datum":-0.48},"y":{"datum":5.83}}},
{"mark":{"type":"text","text":"b","font":"Liberation Serif","fontSize":16,"color":"#222","align":"center","baseline":"middle"},"encoding":{"x":{"datum":0.37},"y":{"datum":5.83}}},
{"mark":{"type":"text","text":"k","font":"Liberation Serif","fontSize":17,"color":"#222","align":"center","baseline":"middle"},"encoding":{"x":{"datum":8.42},"y":{"datum":0.47}}}
]},
{"width":280,"height":215,"data":{"values":[{}]},"layer":[
{"data":{"name":"c"},"transform":[{"filter":"datum.s <= 7"}],"mark":{"type":"bar","width":27.15,"fill":"#CCFFCC","stroke":"#6a6a6a","strokeWidth":1},"encoding":{"x":{"field":"s","type":"quantitative","scale":{"domain":[-1.584,8.729],"nice":false,"zero":false},"axis":null},"y":{"field":"c","type":"quantitative","scale":{"domain":[-5.2632,35.15],"nice":false,"zero":false},"axis":null,"stack":null},"y2":{"datum":0}}},
{"data":{"name":"st"},"mark":{"type":"rule","color":"#555","strokeWidth":1},"encoding":{"x":{"field":"v","type":"quantitative"},"y":{"datum":-1.13},"y2":{"datum":1.13}}},
{"data":{"name":"ct"},"mark":{"type":"rule","color":"#555","strokeWidth":1},"encoding":{"y":{"field":"v","type":"quantitative"},"x":{"datum":-0.28},"x2":{"datum":0.28}}},
{"mark":{"type":"rule","color":"#000","strokeWidth":2},"encoding":{"x":{"datum":-0.74},"x2":{"datum":8.5},"y":{"datum":0}}},
{"mark":{"type":"rule","color":"#000","strokeWidth":2},"encoding":{"x":{"datum":0},"y":{"datum":0},"y2":{"datum":30.4}}},
{"mark":{"type":"point","shape":"M1,0L-1,-0.7L-1,0.7Z","filled":true,"size":81,"color":"#000","opacity":1},"encoding":{"x":{"datum":8.56},"y":{"datum":0}}},
{"mark":{"type":"point","shape":"M0,-1L-0.7,1L0.7,1Z","filled":true,"size":81,"color":"#000","opacity":1},"encoding":{"x":{"datum":0},"y":{"datum":30.35}}},
{"data":{"name":"st"},"mark":{"type":"text","font":"Liberation Serif","fontSize":14,"color":"#222","align":"center","baseline":"middle"},"encoding":{"x":{"field":"v","type":"quantitative"},"y":{"datum":-3.57},"text":{"field":"t"}}},
{"data":{"name":"ctl"},"mark":{"type":"text","font":"Liberation Serif","fontSize":14,"color":"#222","align":"right","baseline":"middle"},"encoding":{"x":{"datum":-0.55},"y":{"field":"v","type":"quantitative"},"text":{"field":"t"}}},
{"mark":{"type":"text","text":"c","font":"Liberation Serif","fontSize":16,"color":"#222","align":"center","baseline":"middle"},"encoding":{"x":{"datum":0.44},"y":{"datum":29.3}}},
{"mark":{"type":"text","text":"s","font":"Liberation Serif","fontSize":16,"color":"#222","align":"center","baseline":"middle"},"encoding":{"x":{"datum":8.47},"y":{"datum":2.1}}},
{"data":{"name":"c"},"transform":[{"filter":"datum.s == 7"}],"mark":{"type":"text","font":"Liberation Serif","fontSize":15,"color":"#222","align":"center","baseline":"middle"},"encoding":{"x":{"datum":3.15},"y":{"datum":27.3},"text":{"field":"lab"}}}
]}
], "spacing": 0, "bounds": "flush"}
]
}
